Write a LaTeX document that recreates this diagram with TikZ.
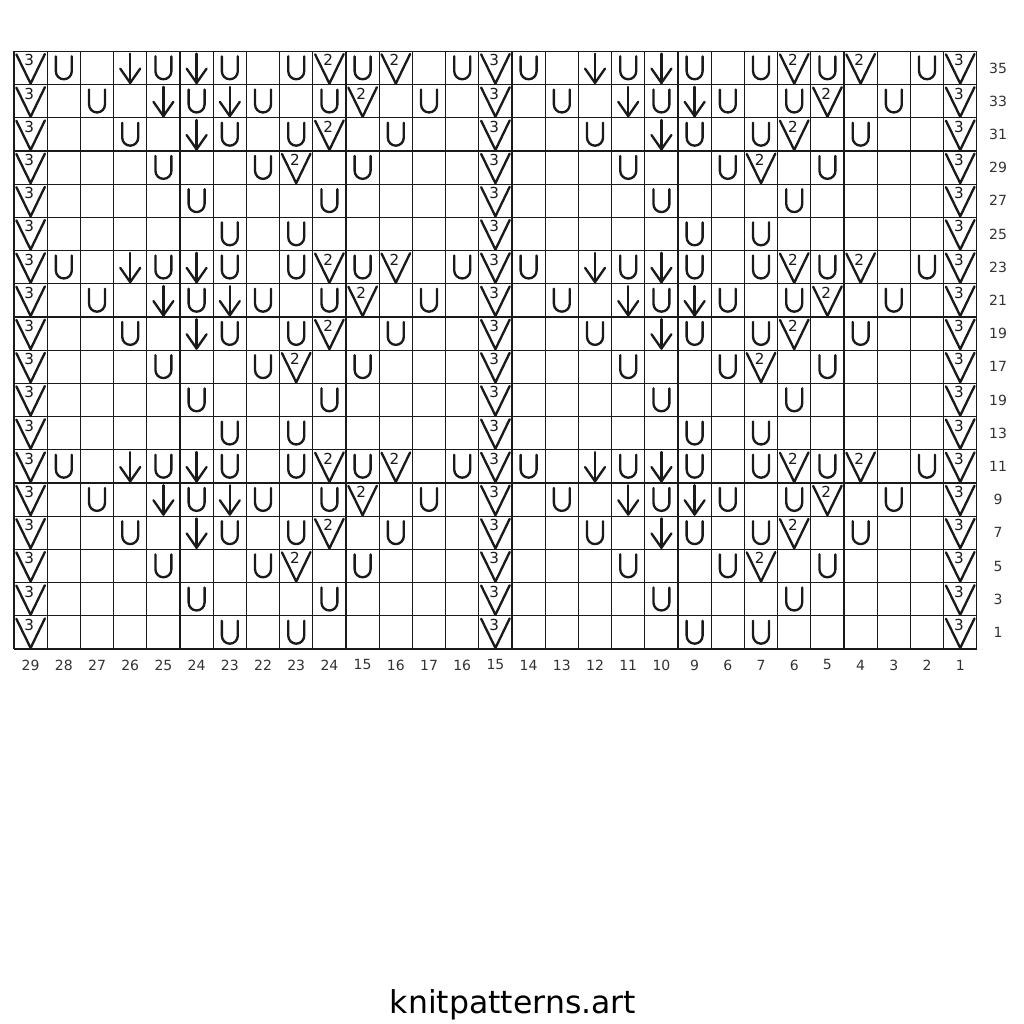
\documentclass[tikz,border=0pt]{standalone}
\usepackage{fontspec}
\setmainfont{DejaVu Sans}
\usepackage{xcolor}
\definecolor{white}{RGB}{255,255,255}
\definecolor{ink}{HTML}{1A1A1A}
\definecolor{labelgray}{HTML}{333333}
\usetikzlibrary{positioning}

\begin{document}
\begin{tikzpicture}[x = 5mm, y = 5mm,
    gridline/.style={line width = 0.55pt, draw = ink},
    symline/.style={line width = 1pt, draw = ink, line cap = round, line join = round},
    numlabel/.style={font = \fontsize{6}{7}\selectfont, text = labelgray, inner sep = 0pt},
    signnum/.style={font = \fontsize{6.5}{7}\selectfont, text = ink, inner sep = 0pt},
    pics/yarnover/.style={code={
        \draw[symline] (-0.24,0.35) -- (-0.24,-0.1) arc[start angle = 180, end angle = 360, radius = 0.24] -- (0.24,0.35);}},
    pics/downarrow/.style={code={
        \draw[symline] (0,0.43) -- (0,-0.45);
        \draw[symline] (-0.3,-0.02) -- (0,-0.45) -- (0.3,-0.02);}},
    pics/vdec/.style={code={
        \draw[symline] (-0.43,0.41) -- (0,-0.47) -- (0.43,0.42);
        \node[signnum] (-num) at (-0.04,0.23) {#1};}}]
    \useasboundingbox[fill = white] (-0.422,-11.295) rectangle (30.42,19.548);
    % chart grid
    \draw[gridline, step = 5mm] (0,0) grid (29,18);
    % edge and centre columns
    \foreach \y in {0,...,17}
      \foreach \x in {0,14,28}
        \pic (vthree-\x-\y) at (\x+0.5,\y+0.5) {vdec=3};
    % three repeats of the six-row motif
    \foreach \b in {0,6,12} {
      \foreach \s in {0,14} {
        \foreach \r/\cols in {5/{1,4,6,8,10,13},4/{2,5,7,9,12},3/{3,6,8,11},2/{4,7,10},1/{5,9},0/{6,8}}
          \foreach \c in \cols
            \pic (yo-\b-\s-\r-\c) at (\c+\s+0.5,\r+\b+0.5) {yarnover};
        \foreach \r/\cols in {5/{3,5},4/{4,6},3/{5}}
          \foreach \c in \cols
            \pic (arr-\b-\s-\r-\c) at (\c+\s+0.5,\r+\b+0.5) {downarrow};
        \foreach \r/\cols in {5/{9,11},4/{10},3/{9},2/{8}}
          \foreach \c in \cols
            \pic (vtwo-\b-\s-\r-\c) at (\c+\s+0.5,\r+\b+0.5) {vdec=2};
      }
    }
    % row numbers
    \foreach \lab [count = \j from 0] in {1,3,5,7,9,11,13,19,17,19,21,23,25,27,29,31,33,35}
      \node[numlabel] (row-\j) at (29.64,\j+0.5) {\lab};
    % stitch numbers
    \foreach \lab [count = \i from 0] in {29,28,27,26,25,24,23,22,23,24,15,16,17,16,15,14,13,12,11,10,9,6,7,6,5,4,3,2,1}
      \node[numlabel] (col-\i) at (\i+0.5,-0.48) {\lab};
    \node[font = \fontsize{13.5}{15}\selectfont, text = black] (site) at (15.03,-10.72) {knitpatterns.art};
\end{tikzpicture}
\end{document}
